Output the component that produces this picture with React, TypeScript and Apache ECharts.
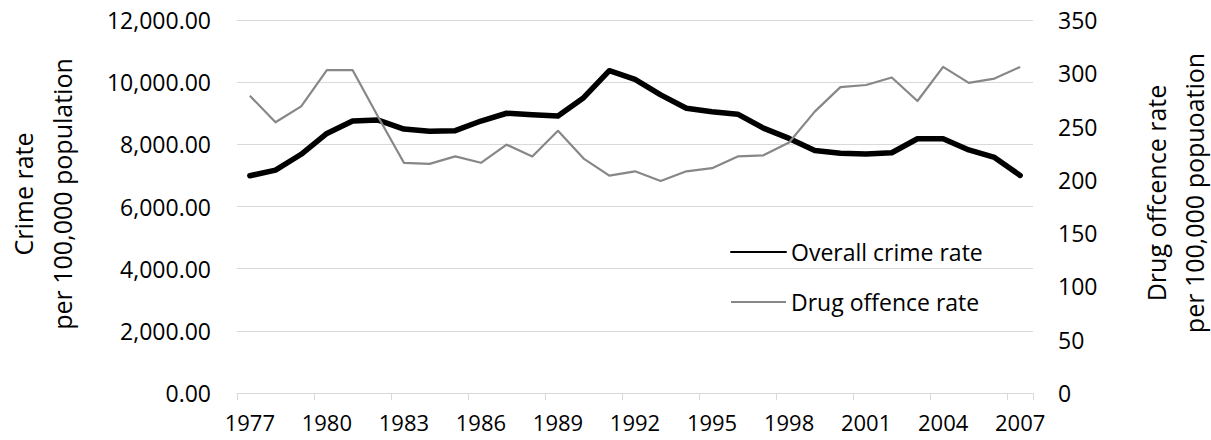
import React, { useEffect, useRef } from "react";
import * as echarts from "echarts";

const years = [
  "1977", "1978", "1979", "1980", "1981", "1982", "1983", "1984", "1985", "1986",
  "1987", "1988", "1989", "1990", "1991", "1992", "1993", "1994", "1995", "1996",
  "1997", "1998", "1999", "2000", "2001", "2002", "2003", "2004", "2005", "2006", "2007",
];

const crimeRate = [
  6990, 7170, 7680, 8350, 8750, 8780, 8490, 8420, 8440, 8750,
  9000, 8950, 8910, 9500, 10370, 10090, 9590, 9160, 9050, 8970,
  8520, 8190, 7800, 7710, 7690, 7730, 8180, 8180, 7820, 7580, 7000,
];

const drugRate = [
  279, 254, 269, 303, 303, 259, 216, 215, 222, 216,
  233, 222, 246, 220, 204, 208, 199, 208, 211, 222,
  223, 235, 264, 287, 289, 296, 274, 306, 291, 295, 306,
];

const seriesNames = ["Overall crime rate", "Drug offence rate"];
const leftTitle = "Crime rate\nper 100,000 population";
const rightTitle = "Drug offcence rate\nper 100,000 popuoation";

const FONT = "Open Sans";

export default function App() {
  const ref = useRef<HTMLDivElement>(null);

  useEffect(() => {
    if (!ref.current) return;
    const chart = echarts.init(ref.current, null, { renderer: "svg" });
    chart.setOption({
      animation: false,
      backgroundColor: "#ffffff",
      textStyle: { fontFamily: FONT },
      grid: { left: 237, right: 178, top: 20, bottom: 47, containLabel: false },
      legend: {
        orient: "vertical",
        left: 725,
        top: 234,
        padding: 5,
        itemWidth: 55,
        itemHeight: 14,
        itemGap: 24,
        data: seriesNames,
        itemStyle: { opacity: 0 },
        textStyle: { fontSize: 23, color: "#000", fontFamily: FONT, lineHeight: 26 },
      },
      xAxis: {
        type: "category",
        data: years,
        boundaryGap: true,
        axisLine: { show: true, lineStyle: { color: "#d9d9d9", width: 1 } },
        axisTick: { show: true, interval: 2, length: 7, alignWithLabel: false, lineStyle: { color: "#d9d9d9" } },
        axisLabel: { interval: 2, fontSize: 22, lineHeight: 22, color: "#000", fontFamily: FONT, margin: 18 },
        splitLine: { show: false },
      },
      yAxis: [
        {
          type: "value",
          min: 0,
          max: 12000,
          interval: 2000,
          axisLine: { show: false },
          axisTick: { show: false },
          splitLine: { show: true, lineStyle: { color: "#d9d9d9", width: 1 } },
          axisLabel: {
            fontSize: 23,
            color: "#000",
            fontFamily: FONT,
            margin: 26,
            formatter: (v: number) =>
              v.toLocaleString("en-US", { minimumFractionDigits: 2, maximumFractionDigits: 2 }),
          },
        },
        {
          type: "value",
          min: 0,
          max: 350,
          interval: 50,
          position: "right",
          axisLine: { show: false },
          axisTick: { show: false },
          splitLine: { show: false },
          axisLabel: { fontSize: 23, color: "#000", fontFamily: FONT, margin: 25 },
        },
      ],
      graphic: [
        {
          type: "text",
          x: 42,
          y: 194,
          rotation: Math.PI / 2,
          style: {
            text: leftTitle,
            fontSize: 25,
            fontFamily: FONT,
            fill: "#000",
            textAlign: "center",
            textVerticalAlign: "middle",
            align: "center",
            verticalAlign: "middle",
            lineHeight: 39,
          },
        },
        {
          type: "text",
          x: 1175,
          y: 193,
          rotation: Math.PI / 2,
          style: {
            text: rightTitle,
            fontSize: 25,
            fontFamily: FONT,
            fill: "#000",
            textAlign: "center",
            textVerticalAlign: "middle",
            align: "center",
            verticalAlign: "middle",
            lineHeight: 38,
          },
        },
      ],
      series: [
        {
          name: seriesNames[0],
          type: "line",
          yAxisIndex: 0,
          data: crimeRate,
          symbol: "none",
          lineStyle: { color: "#000000", width: 5.5, cap: "round", join: "round" },
          itemStyle: { color: "#000000" },
          z: 2,
        },
        {
          name: seriesNames[1],
          type: "line",
          yAxisIndex: 1,
          data: drugRate,
          symbol: "none",
          lineStyle: { color: "#878787", width: 2.2, join: "round" },
          itemStyle: { color: "#878787" },
          z: 3,
        },
      ],
    });
    return () => chart.dispose();
  }, []);

  return (
    <div
      ref={ref}
      style={{ position: "fixed", left: 0, top: 0, width: 1211, height: 440, background: "#fff" }}
    />
  );
}
